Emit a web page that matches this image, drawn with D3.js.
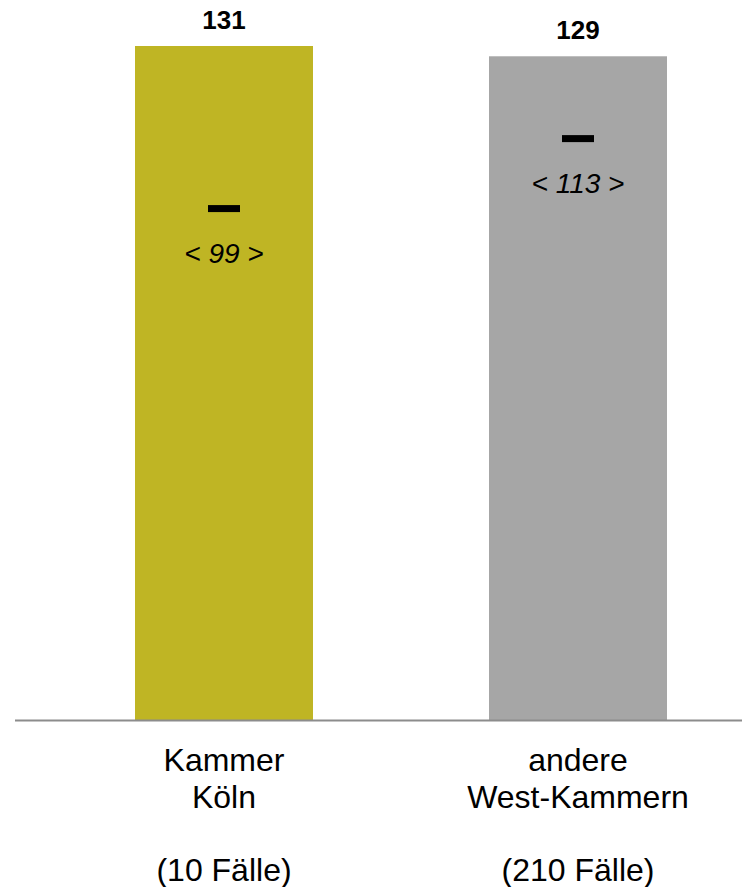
<!DOCTYPE html>
<html>
<head>
<meta charset="utf-8">
<script src="https://cdn.jsdelivr.net/npm/d3@7"></script>
<style>
  body { margin: 0; background: #fff; }
  text { font-family: Arial, "Liberation Sans", sans-serif; }
</style>
</head>
<body>
<div id="chart"></div>
<script>
const categories = ['Kammer Köln', 'andere West-Kammern']
const labelLines = [
  ['Kammer', 'Köln', '', '(10 Fälle)'],
  ['andere', 'West-Kammern', '', '(210 Fälle)']
]
const values = [131, 129]
const markers = [99.4, 113]
const colors = ['#BFB524', '#A6A6A6']

const width = 742
const height = 887
const baseY = 720
const barWidth = 178

const svg = d3.select('#chart').append('svg')
  .attr('width', width)
  .attr('height', height)

const x = d3.scalePoint().domain(categories).range([224, 578])
const y = d3.scaleLinear().domain([0, 131]).range([baseY, 46])

const data = categories.map((c, i) => ({
  cat: c, value: values[i], marker: markers[i], color: colors[i], lines: labelLines[i]
}))

// bars
svg.selectAll('rect.bar').data(data).enter().append('rect')
  .attr('class', 'bar')
  .attr('x', d => x(d.cat) - barWidth / 2)
  .attr('y', d => y(d.value))
  .attr('width', barWidth)
  .attr('height', d => baseY - y(d.value))
  .attr('fill', d => d.color)

// baseline
svg.append('line')
  .attr('x1', 15).attr('x2', width)
  .attr('y1', baseY + 0.5).attr('y2', baseY + 0.5)
  .attr('stroke', '#8c8c8c')
  .attr('stroke-width', 2)

// value labels
svg.selectAll('text.value').data(data).enter().append('text')
  .attr('class', 'value')
  .attr('x', d => x(d.cat))
  .attr('y', d => y(d.value) - 17)
  .attr('text-anchor', 'middle')
  .attr('font-size', 26)
  .attr('font-weight', 'bold')
  .text(d => d.value)

// marker dashes + labels
svg.selectAll('rect.marker').data(data).enter().append('rect')
  .attr('class', 'marker')
  .attr('x', d => x(d.cat) - 16)
  .attr('y', d => y(d.marker) - 3.5)
  .attr('width', 32)
  .attr('height', 7)
  .attr('fill', '#000')

svg.selectAll('text.marker').data(data).enter().append('text')
  .attr('class', 'marker')
  .attr('x', d => x(d.cat))
  .attr('y', d => y(d.marker) + 54)
  .attr('text-anchor', 'middle')
  .attr('font-size', 28)
  .attr('font-style', 'italic')
  .text(d => `< ${Math.round(d.marker)} >`)

// category labels
const cat = svg.selectAll('text.cat').data(data).enter().append('text')
  .attr('class', 'cat')
  .attr('text-anchor', 'middle')
  .attr('font-size', 32)
  .attr('fill', '#000')
cat.selectAll('tspan').data(d => d.lines.map(l => ({ l, cx: x(d.cat) })))
  .enter().append('tspan')
  .attr('x', d => d.cx)
  .attr('y', (d, i) => 771 + i * 36.7)
  .text(d => d.l)
</script>
</body>
</html>
